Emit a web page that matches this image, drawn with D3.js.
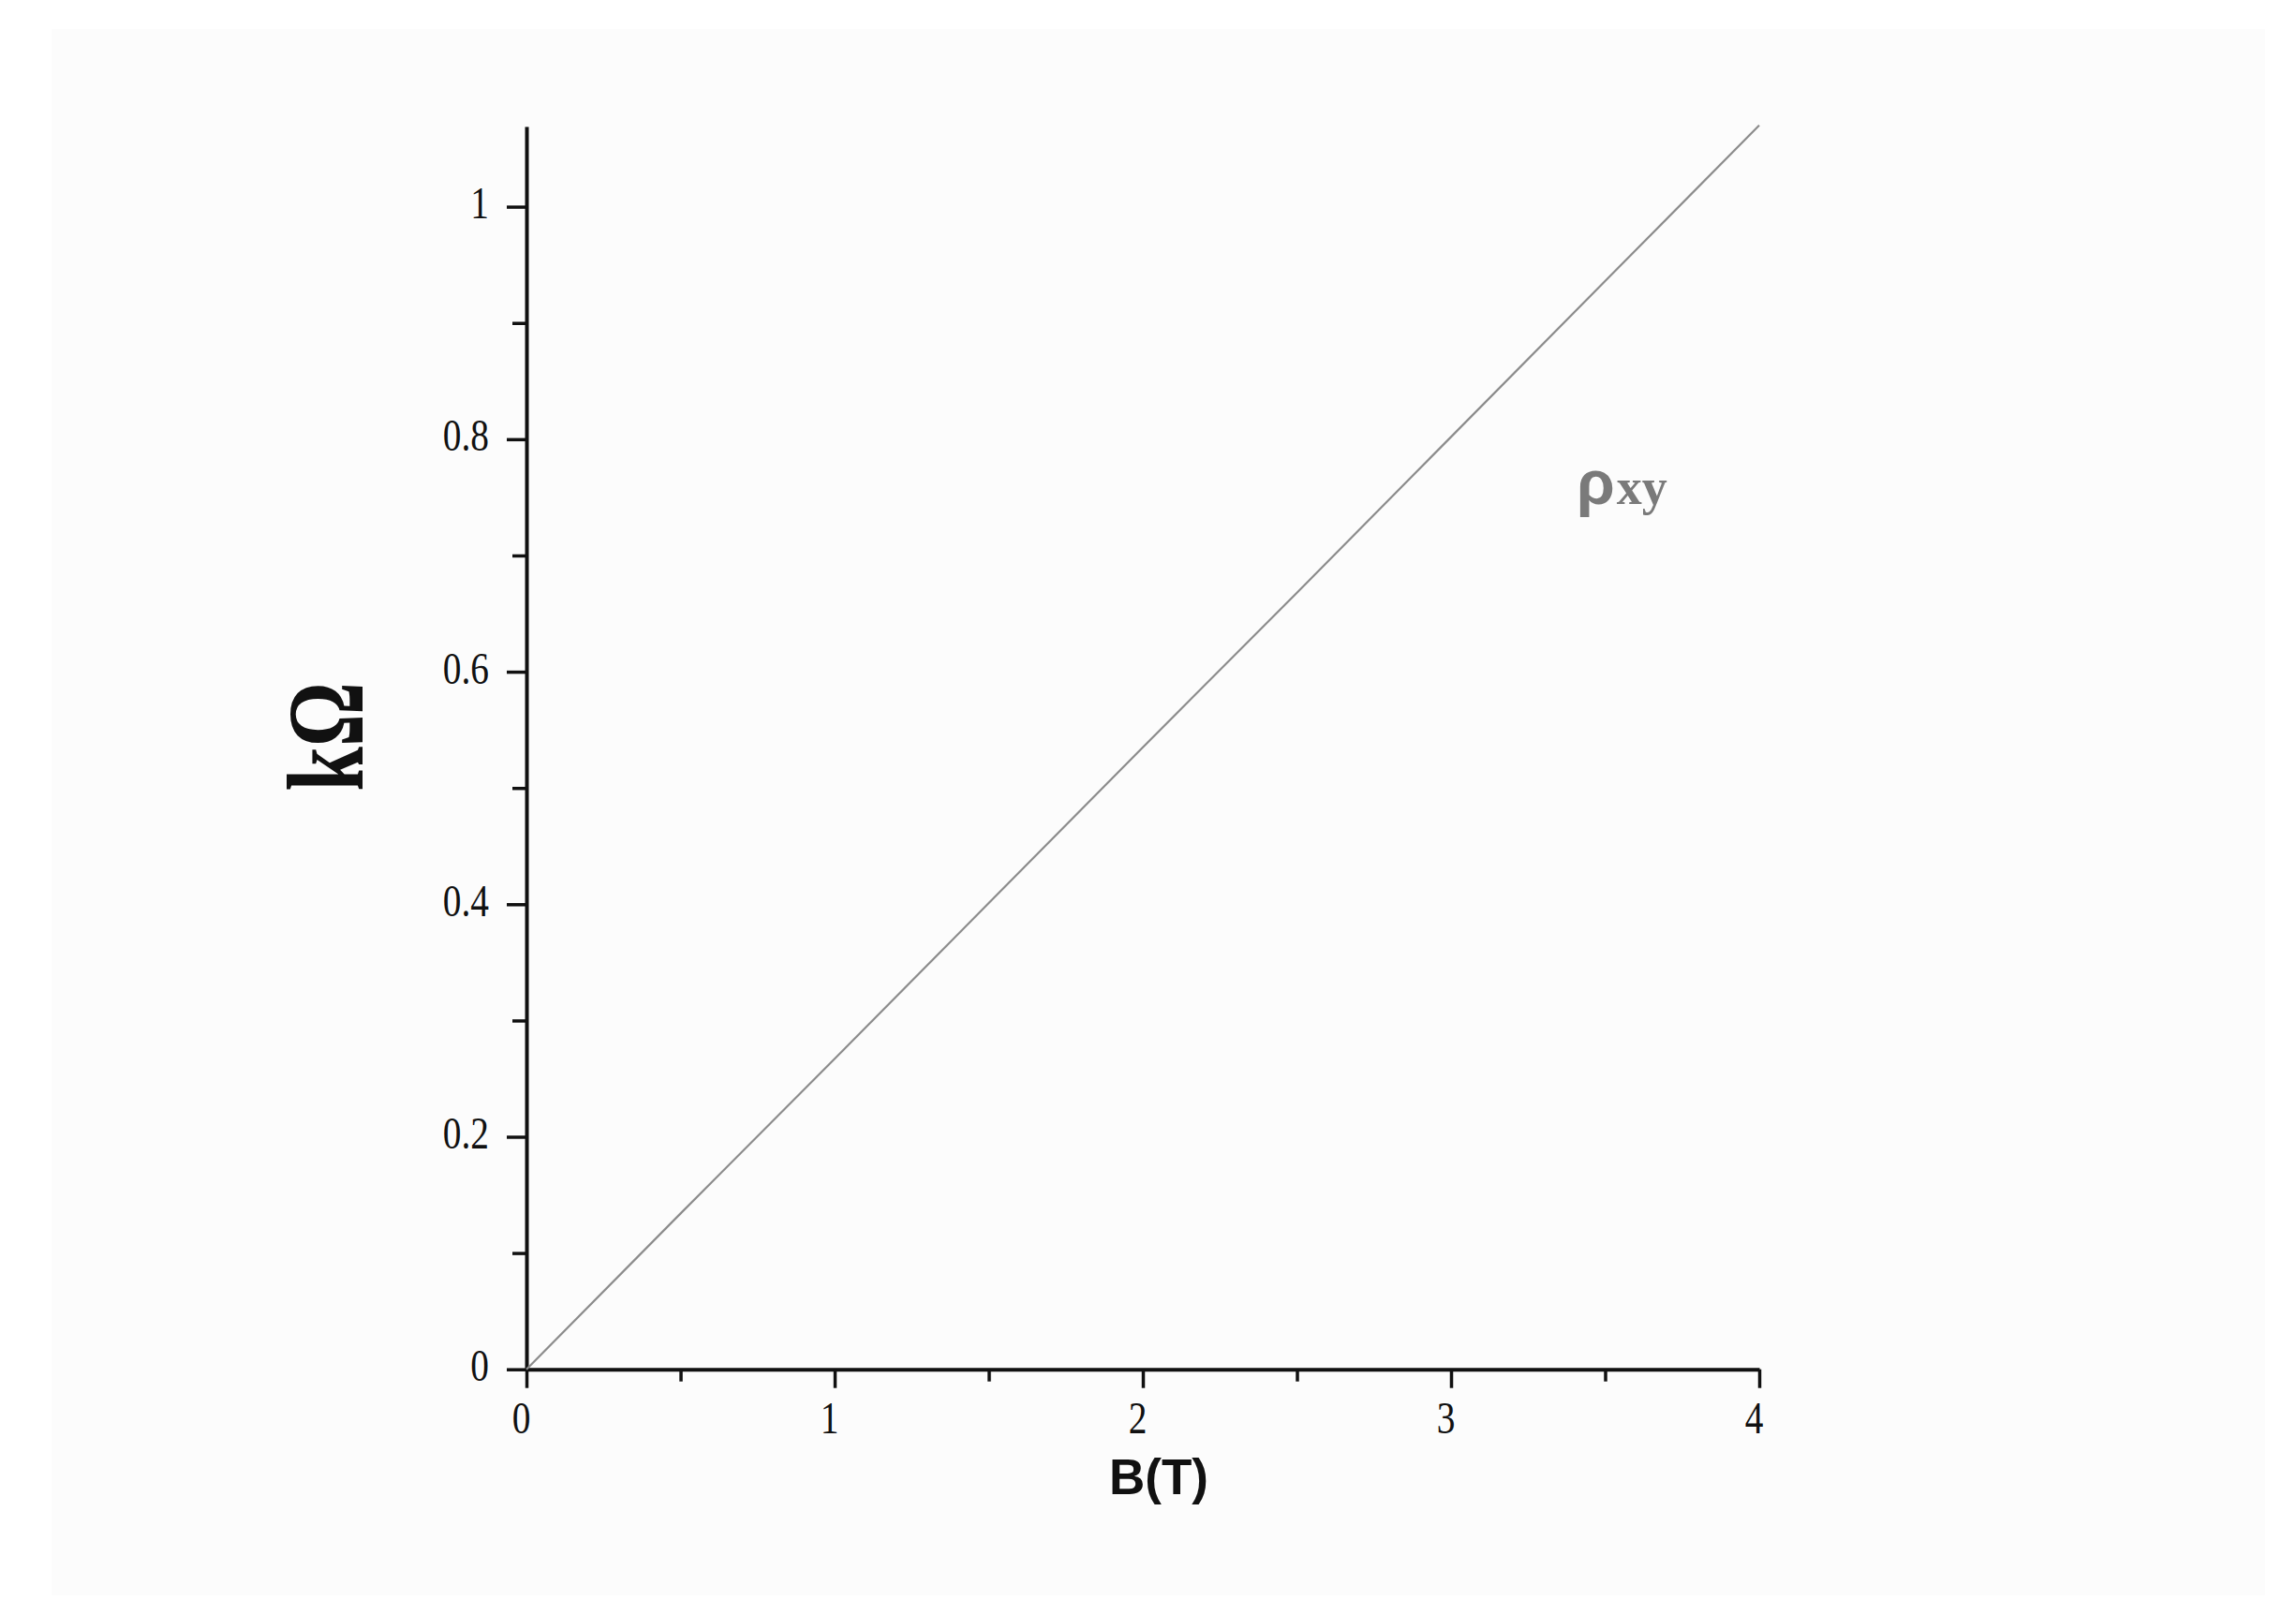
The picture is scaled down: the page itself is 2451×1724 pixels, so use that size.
<!DOCTYPE html>
<html>
<head>
<meta charset="utf-8">
<script src="https://cdn.jsdelivr.net/npm/d3@7"></script>
<style>
  html, body { margin: 0; padding: 0; background: #ffffff; }
  svg { display: block; }
</style>
</head>
<body>
<svg id="chart" width="2451" height="1724"></svg>
<script>
// ---- data ----
const fieldB = [0, 0.5, 1, 1.5, 2, 2.5, 3, 3.5, 4];            // B (T)
const rhoXY  = [0, 0.134, 0.267, 0.401, 0.535, 0.668, 0.802, 0.936, 1.07]; // kΩ
const xMajorTicks = [0, 1, 2, 3, 4];
const xMinorTicks = [0.5, 1.5, 2.5, 3.5];
const yMajorTicks = [0, 0.2, 0.4, 0.6, 0.8, 1];
const yMinorTicks = [0.1, 0.3, 0.5, 0.7, 0.9];
const xTitle = "B(T)";
const yTitle = "kΩ";
const seriesLabelMain = "ρ";
const seriesLabelSub = "xy";

// ---- layout ----
const svg = d3.select("#chart");
svg.append("rect").attr("x", 55).attr("y", 31).attr("width", 2363).attr("height", 1672).attr("fill", "#fcfcfc");

const x = d3.scaleLinear().domain([0, 4]).range([562, 1878]);
const y = d3.scaleLinear().domain([0, 1.069]).range([1461.7, 135]);
const fmt = d => d3.format("~g")(d);

const axisColor = "#111";
const sx = 0.82; // narrow digits

// X axis
const gx = svg.append("g").attr("transform", `translate(0,${y(0)})`);
gx.call(d3.axisBottom(x).tickValues(xMajorTicks).tickSize(20).tickSizeOuter(0).tickFormat(fmt));
gx.append("g").call(d3.axisBottom(x).tickValues(xMinorTicks).tickSize(13).tickSizeOuter(0).tickFormat(""))
  .select(".domain").remove();
gx.selectAll(".domain").attr("stroke", axisColor).attr("stroke-width", 4);
gx.selectAll(".tick line").attr("stroke", axisColor).attr("stroke-width", 3.5);
gx.selectAll(".tick text")
  .attr("font-family", "'Liberation Serif', 'Times New Roman', serif")
  .attr("font-size", 48).attr("fill", axisColor)
  .attr("y", 68).attr("dy", 0)
  .attr("x", -6 / sx)
  .attr("transform", `scale(${sx},1)`);

// Y axis
const gy = svg.append("g").attr("transform", `translate(${x(0)},0)`);
gy.call(d3.axisLeft(y).tickValues(yMajorTicks).tickSize(21).tickSizeOuter(0).tickFormat(fmt));
gy.append("g").call(d3.axisLeft(y).tickValues(yMinorTicks).tickSize(15).tickSizeOuter(0).tickFormat(""))
  .select(".domain").remove();
gy.selectAll(".domain").attr("stroke", axisColor).attr("stroke-width", 4);
gy.selectAll(".tick line").attr("stroke", axisColor).attr("stroke-width", 3.5);
gy.selectAll(".tick text")
  .attr("font-family", "'Liberation Serif', 'Times New Roman', serif")
  .attr("font-size", 48).attr("fill", axisColor)
  .attr("text-anchor", "end")
  .attr("x", -40 / sx).attr("dy", 0).attr("y", 12)
  .attr("transform", `scale(${sx},1)`);

// Data line
const line = d3.line().x((d, i) => x(fieldB[i])).y(d => y(d));
svg.append("path").datum(rhoXY)
  .attr("d", line)
  .attr("fill", "none")
  .attr("stroke", "#8c8c8c")
  .attr("stroke-width", 2.2);

// Series label
const lbl = svg.append("text")
  .attr("x", 1683).attr("y", 538)
  .attr("fill", "#7a7a7a").attr("font-weight", "bold");
lbl.append("tspan").text(seriesLabelMain)
  .attr("font-family", "'Liberation Sans', Arial, sans-serif").attr("font-size", 66);
lbl.append("tspan").text(seriesLabelSub)
  .attr("font-family", "'Liberation Serif', 'Times New Roman', serif").attr("font-size", 54)
  .attr("dx", 2);

// X title
svg.append("text")
  .attr("x", 1237).attr("y", 1595)
  .attr("text-anchor", "middle")
  .attr("font-family", "'Liberation Sans', Arial, sans-serif")
  .attr("font-weight", "bold").attr("font-size", 53).attr("fill", "#111")
  .text(xTitle);

// Y title
svg.append("text")
  .attr("transform", "translate(387,786.5) rotate(-90) scale(0.74,1)")
  .attr("text-anchor", "middle")
  .attr("font-family", "'Liberation Serif', 'Times New Roman', serif")
  .attr("font-weight", "bold").attr("font-size", 116).attr("fill", "#111")
  .text(yTitle);
</script>
</body>
</html>
